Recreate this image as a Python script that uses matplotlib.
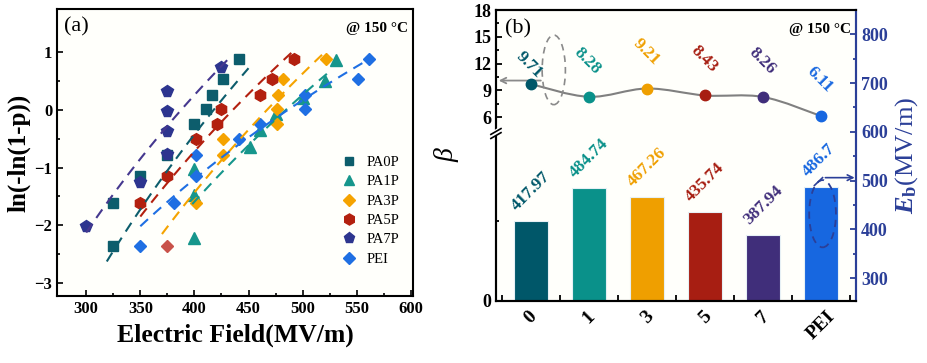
import numpy as np
import matplotlib
matplotlib.use("Agg")
import matplotlib.pyplot as plt
from matplotlib.patches import Ellipse, PathPatch
from matplotlib.path import Path
from matplotlib.lines import Line2D

plt.rcParams["font.family"] = "Liberation Serif"
plt.rcParams["mathtext.fontset"] = "custom"
plt.rcParams["mathtext.it"] = "Liberation Serif:italic:bold"
plt.rcParams["mathtext.rm"] = "Liberation Serif:bold"

# ---- panel (a) data: Weibull plot points ----
pa0p_x = [325, 325, 350, 375, 400, 411, 416, 426, 441]
pa0p_y = [-2.35, -1.61, -1.14, -0.79, -0.24, 0.01, 0.26, 0.53, 0.87]
pa1p_x = [400, 400, 400, 451, 461, 475, 500, 521, 531]
pa1p_y = [-2.22, -1.47, -1.02, -0.64, -0.35, -0.08, 0.20, 0.50, 0.86]
pa3p_x = [401, 426, 426, 476, 476, 477, 482, 522]
pa3p_y = [-1.61, -0.79, -0.50, -0.24, 0.01, 0.26, 0.53, 0.87]
pa5p_x = [350, 375, 401, 421, 425, 461, 472, 492]
pa5p_y = [-1.61, -1.14, -0.50, -0.24, 0.01, 0.26, 0.53, 0.87]
pa5p_extra_x = [375]
pa5p_extra_y = [-2.35]
pa7p_x = [300, 350, 375, 375, 375, 375, 425]
pa7p_y = [-2.01, -1.25, -0.76, -0.37, -0.02, 0.33, 0.73]
pei_x = [350, 381, 401, 401, 441, 461, 502, 502, 551, 561]
pei_y = [-2.35, -1.61, -1.14, -0.79, -0.50, -0.24, 0.01, 0.26, 0.53, 0.87]

# fitted line extents (MV/m)
fit_start = [319, 398, 370, 350, 300, 350]
fit_end = [450, 524, 522, 492, 432, 565]

# ---- panel (b) data ----
categories = ["0", "1", "3", "5", "7", "PEI"]
beta = [9.71, 8.28, 9.21, 8.43, 8.26, 6.11]
eb = [417.97, 484.74, 467.26, 435.74, 387.94, 486.7]
eb_labels = ["417.97", "484.74", "467.26", "435.74", "387.94", "486.7"]
beta_labels = ["9.71", "8.28", "9.21", "8.43", "8.26", "6.11"]

names = ["PA0P", "PA1P", "PA3P", "PA5P", "PA7P", "PEI"]
pt_colors = ["#0d5d6c", "#16968c", "#f5a300", "#b3200f", "#2d358f", "#1f6fe3"]
line_colors = ["#0d5d6c", "#16968c", "#f5a300", "#b3200f", "#45388f", "#1f6fe3"]
markers = ["s", "^", "D", "h", "p", "D"]
msizes = [6.5, 8, 6.5, 8.5, 8.5, 6.5]
bar_colors = ["#005769", "#0a918a", "#ef9f00", "#a71e12", "#402e7a", "#1767e0"]
eb_color = "#2b3f98"

fig = plt.figure(figsize=(9.27, 3.63), dpi=100)

# ================= panel (a) =================
ax = fig.add_axes([0.0615, 0.1846, 0.384, 0.7906])
ax.set_facecolor("#fffffb")
series = [(pa0p_x, pa0p_y), (pa1p_x, pa1p_y), (pa3p_x, pa3p_y),
          (pa5p_x, pa5p_y), (pa7p_x, pa7p_y), (pei_x, pei_y)]
handles = []
for i, (xs, ys) in enumerate(series):
    ax.plot(xs, ys, linestyle="none", marker=markers[i], ms=msizes[i],
            color=pt_colors[i], mec=pt_colors[i], zorder=2)
    handles.append(Line2D([], [], linestyle="none", marker=markers[i],
                          ms=msizes[i] - 0.5, color=pt_colors[i], label=names[i]))
    # Weibull fit line: y = beta * ln(E / Eb)
    ex = np.linspace(fit_start[i], fit_end[i], 50)
    ax.plot(ex, beta[i] * np.log(ex / eb[i]), linestyle=(0, (5, 3.5)),
            lw=1.5, color=line_colors[i], zorder=3)
ax.plot(pa5p_extra_x, pa5p_extra_y, linestyle="none", marker="D", ms=6.5,
        color="#c9524a", zorder=2)

ax.set_xlim(273, 602)
ax.set_ylim(-3.22, 1.74)
ax.set_xticks([300, 350, 400, 450, 500, 550, 600])
ax.set_xticks(np.arange(325, 600, 50), minor=True)
ax.set_yticks([-3, -2, -1, 0, 1])
ax.set_yticks([-2.5, -1.5, -0.5, 0.5], minor=True)
ax.tick_params(which="both", direction="in", width=1.2, labelsize=12)
ax.tick_params(which="major", length=4)
ax.tick_params(which="minor", length=2.5)
for lab in ax.get_xticklabels() + ax.get_yticklabels():
    lab.set_fontweight("bold")
for sp in ax.spines.values():
    sp.set_linewidth(1.5)
ax.set_xlabel("Electric Field(MV/m)", fontsize=18.5, fontweight="bold", labelpad=5)
ax.set_ylabel("ln(-ln(1-p))", fontsize=18, fontweight="bold", labelpad=3)
ax.text(0.02, 0.97, "(a)", transform=ax.transAxes, fontsize=16, va="top", ha="left")
ax.text(0.985, 0.955, "@ 150 °C", transform=ax.transAxes, fontsize=11,
        fontweight="bold", va="top", ha="right")
ax.legend(handles=handles, loc="lower right", bbox_to_anchor=(1.0, 0.06),
          frameon=False, fontsize=10.5, handletextpad=0.6, labelspacing=0.42,
          handlelength=1.2)

# ================= panel (b) =================
axb = fig.add_axes([0.535, 0.1716, 0.3887, 0.8008])
axb.set_facecolor("#fffffb")
xpos = np.arange(len(categories))
axb.bar(xpos, eb, width=0.585, color=bar_colors, edgecolor="#e6f0f5",
        linewidth=0.8, zorder=2)
axb.set_ylim(253.5, 850)
axb.set_xlim(-0.6, 5.6)

# beta axis with a break (lower segment compressed)
BK = 4.2
LOW = 4.466


def fwd(b):
    b = np.asarray(b, dtype=float)
    return np.where(b < BK, b * LOW, BK * LOW + (b - BK))


def inv(u):
    u = np.asarray(u, dtype=float)
    return np.where(u < BK * LOW, u / LOW, (u - BK * LOW) + BK)


axt = axb.twinx()

# Eb axis on the right (bars)
axb.yaxis.tick_right()
axb.yaxis.set_label_position("right")
axb.set_yticks([300, 400, 500, 600, 700, 800])
axb.set_yticks([350, 450, 550, 650, 750], minor=True)
axb.tick_params(axis="y", which="both", direction="in", colors=eb_color,
                labelsize=13, width=1.3, left=False, labelleft=False,
                right=True, labelright=True)
axb.tick_params(axis="y", which="major", length=4)
axb.tick_params(axis="y", which="minor", length=2.5)
for lab in axb.get_yticklabels():
    lab.set_fontweight("bold")
axb.set_ylabel(r"$E_{\mathrm{b}}$(MV/m)", fontsize=19, color=eb_color, labelpad=4)
axb.set_xticks(xpos)
axb.set_xticklabels(categories, rotation=45, ha="center", va="top",
                    fontsize=14, fontweight="bold")
axb.set_xticks(np.arange(-0.5, 5.6, 1.0), minor=True)
axb.tick_params(axis="x", which="major", length=0, pad=5)
axb.tick_params(axis="x", which="minor", direction="in", length=4, width=1.3)
for side, sp in axb.spines.items():
    sp.set_linewidth(1.5)
axb.spines["right"].set_color(eb_color)

for i in range(len(categories)):
    axb.annotate(eb_labels[i], (xpos[i], eb[i]), xytext=(-8, 5),
                 textcoords="offset points", rotation=45,
                 rotation_mode="anchor", ha="left", va="bottom",
                 fontsize=12.5, fontweight="bold", color=bar_colors[i])

# blue dashed ellipse + arrow pointing to the Eb axis
axb.add_patch(Ellipse((5.02, 432), 0.46, 138, fill=False, ls=(0, (4, 3)),
                      lw=1.3, color=eb_color, zorder=3))
axb.plot([4.88, 5.02], [490, 506], color=eb_color, lw=1.2, zorder=3)
axb.annotate("", xy=(5.62, 506), xytext=(5.02, 506),
             arrowprops=dict(arrowstyle="->", color=eb_color, lw=1.2),
             annotation_clip=False)

# beta axis on the left
axt.yaxis.tick_left()
axt.yaxis.set_label_position("left")
axt.set_yscale("function", functions=(fwd, inv))
axt.set_ylim(0, 18)
axt.set_yticks([0, 6, 9, 12, 15, 18])
axt.set_yticklabels(["0", "6", "9", "12", "15", "18"])
axt.set_yticks([2, 7.5, 10.5, 13.5, 16.5], minor=True)
axt.tick_params(axis="y", which="both", direction="in", labelsize=13, width=1.3,
                right=False, labelright=False, left=True, labelleft=True)
axt.tick_params(axis="y", which="major", length=4)
axt.tick_params(axis="y", which="minor", length=2.5)
for lab in axt.get_yticklabels():
    lab.set_fontweight("bold")
for sp in axt.spines.values():
    sp.set_linewidth(1.5)
axt.spines["right"].set_color(eb_color)
axt.set_ylabel("β", fontsize=20, fontstyle="italic", labelpad=10)

# smooth grey curve through beta points (Catmull-Rom -> cubic Bezier)
pts = np.column_stack([xpos, beta]).astype(float)
ext = np.vstack([pts[0], pts, pts[-1]])
verts = [tuple(pts[0])]
codes = [Path.MOVETO]
for k in range(len(pts) - 1):
    p0, p1, p2, p3 = ext[k], ext[k + 1], ext[k + 2], ext[k + 3]
    c1 = p1 + (p2 - p0) / 6.0
    c2 = p2 - (p3 - p1) / 6.0
    verts += [tuple(c1), tuple(c2), tuple(p2)]
    codes += [Path.CURVE4] * 3
axt.add_patch(PathPatch(Path(verts, codes), fill=False, color="#808080",
                        lw=1.5, zorder=3))
for i in range(len(categories)):
    axt.plot(xpos[i], beta[i], marker="o", ms=7.5, color=bar_colors[i],
             mec=bar_colors[i], zorder=4)
    dy = 14 if i == 0 else 26
    axt.annotate(beta_labels[i], (xpos[i], beta[i]), xytext=(-1, dy),
                 textcoords="offset points", rotation=-45, ha="center",
                 va="center", rotation_mode="anchor", fontsize=12.5,
                 fontweight="bold", color=bar_colors[i])

# grey dashed ellipse + arrow pointing to the beta axis
axt.add_patch(Ellipse((0.395, 11.3), 0.40, 7.8, angle=0, fill=False,
                      ls=(0, (4, 3)), lw=1.2, color="#8a8a8a", zorder=3))
axt.annotate("", xy=(-0.6, 10.1), xytext=(0.22, 10.1),
             arrowprops=dict(arrowstyle="->", color="#8a8a8a", lw=1.3),
             annotation_clip=False)

# break marks on the left spine
yb = float(fwd(BK) / fwd(18))
axt.plot([-0.012, 0.012], [yb - 0.006, yb + 0.012], transform=axt.transAxes,
         color="white", lw=4, clip_on=False, zorder=5)
for off in (-0.008, 0.006):
    axt.plot([-0.014, 0.014], [yb + off - 0.010, yb + off + 0.010],
             transform=axt.transAxes, color="black", lw=1.2, clip_on=False, zorder=6)

axt.text(0.025, 0.97, "(b)", transform=axt.transAxes, fontsize=16, va="top", ha="left")
axt.text(0.985, 0.955, "@ 150 °C", transform=axt.transAxes, fontsize=11,
         fontweight="bold", va="top", ha="right")

fig.savefig("out.png", dpi=100)
